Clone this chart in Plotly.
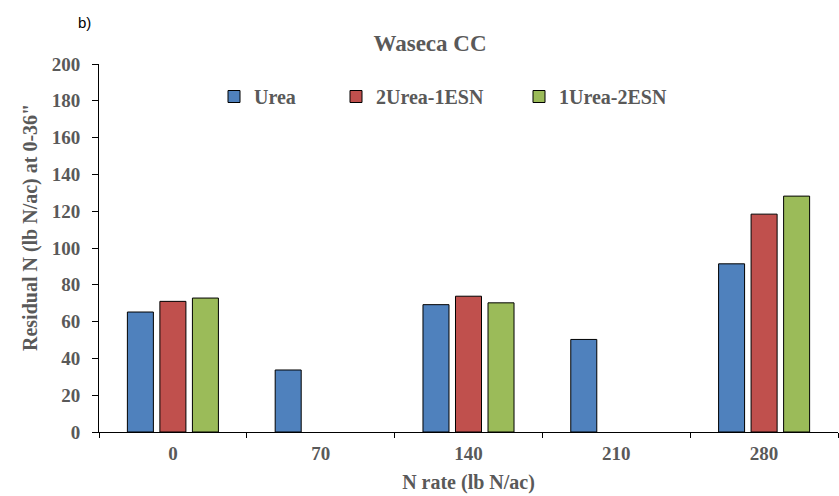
import plotly.graph_objects as go

categories = ["0", "70", "140", "210", "280"]
urea = [65.2, 33.7, 69.2, 50.3, 91.4]
urea2esn1 = [71.0, None, 73.8, None, 118.4]
urea1esn2 = [72.8, None, 70.2, None, 128.2]
series_names = ["Urea", "2Urea-1ESN", "1Urea-2ESN"]
colors = ["#4F81BD", "#C0504D", "#9BBB59"]
legend_ids = ["legend", "legend2", "legend3"]

GRAY = "#595959"
FONT = "Liberation Serif"
L, R, T, B, W, H = 99, 1, 64, 64, 839, 496
PW, PH = W - L - R, H - T - B


def px_x(x):
    return (x - L) / PW


def px_y(y):
    return (H - B - y) / PH


fig = go.Figure()
for name, vals, c, lg in zip(series_names, [urea, urea2esn1, urea1esn2], colors, legend_ids):
    fig.add_trace(go.Bar(x=categories, y=vals, name=f"<b>{name}</b>", legend=lg, showlegend=True,
                         marker=dict(color=c, line=dict(color="#000000", width=1))))

legend_text_starts = [253, 375, 558]
leg_common = dict(orientation="h", yanchor="middle", xanchor="left",
                  font=dict(family=FONT, size=20, color=GRAY),
                  bgcolor="rgba(0,0,0,0)", itemwidth=30, visible=True)
legends = {}
for lg, ts in zip(legend_ids, legend_text_starts):
    legends[lg] = dict(leg_common, x=px_x(ts - 39), y=px_y(96.5))

fig.update_layout(
    width=W, height=H,
    margin=dict(l=L, r=R, t=T, b=B),
    paper_bgcolor="white", plot_bgcolor="white",
    showlegend=True,
    barmode="group", bargap=0.34, bargroupgap=0.2,
    title=dict(text="<b>Waseca CC</b>", x=430 / W, xanchor="center", y=1 - 42.5 / H, yanchor="middle",
               font=dict(family=FONT, size=23, color=GRAY)),
    font=dict(family=FONT, color=GRAY),
    annotations=[
        dict(text="b)", x=px_x(84.5), y=px_y(22.5), xref="paper", yref="paper", showarrow=False,
             xanchor="center", yanchor="middle",
             font=dict(family="Liberation Sans", size=15, color="#000000")),
        dict(text="<b>Residual N (lb N/ac) at 0-36\"</b>", x=px_x(30), y=px_y(228), xref="paper", yref="paper",
             showarrow=False, textangle=-90, xanchor="center", yanchor="middle",
             font=dict(family=FONT, size=20, color=GRAY)),
    ],
    **legends,
)

fig.update_xaxes(type="category", showline=True, linecolor="#000000", linewidth=1,
                 ticks="outside", tickson="boundaries", ticklen=5, tickcolor="#000000",
                 tickfont=dict(family=FONT, size=19, color=GRAY),
                 ticklabelstandoff=4,
                 title=dict(text="<b>N rate (lb N/ac)</b>", font=dict(family=FONT, size=20, color=GRAY), standoff=12),
                 tickprefix="<b>", ticksuffix="</b>", showgrid=False)
fig.update_yaxes(range=[0, 200], dtick=20, showline=True, linecolor="#000000", linewidth=1,
                 ticks="outside", ticklen=6, tickcolor="#000000", showgrid=False, zeroline=False,
                 tickfont=dict(family=FONT, size=19, color=GRAY),
                 ticklabelstandoff=8,
                 tickprefix="<b>", ticksuffix="</b>")

fig.write_html("out.html")
